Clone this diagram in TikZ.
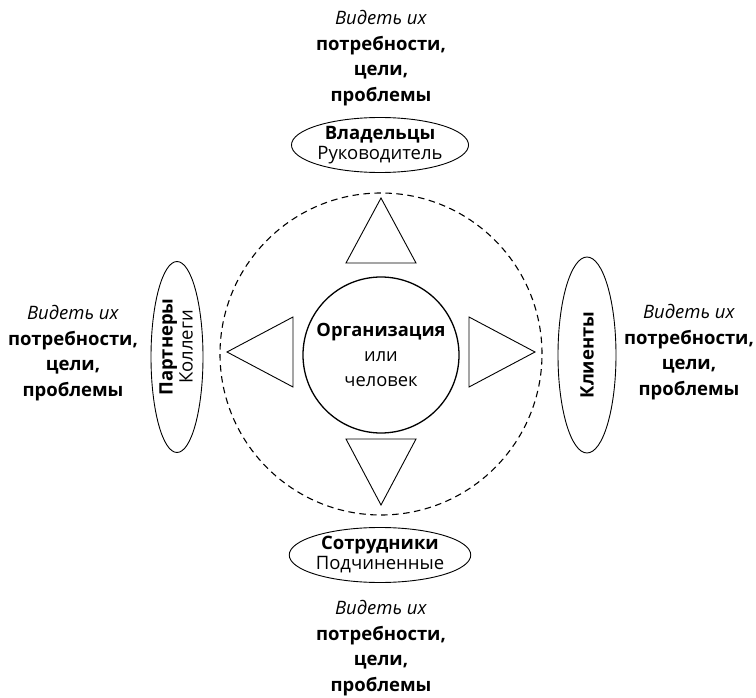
\documentclass[tikz,border=0pt]{standalone}
\usepackage{fontspec}
\setmainfont{Open Sans}
\usetikzlibrary{shapes.geometric}
\begin{document}
\begin{tikzpicture}[x=1pt,y=-1pt,
  ell/.style={draw,ellipse,line width=0.9pt,inner sep=0pt,align=center,font=\fontsize{18.5}{20}\selectfont},
  lab/.style={align=center,inner sep=0pt,font=\fontsize{18.5}{20}\selectfont},
  tri/.style={draw,line width=0.9pt,line join=miter},
  see/.style={align=center,font=\fontsize{18.5}{25.5}\selectfont}]
\useasboundingbox (0,0) rectangle (756,698);
% circles
\node[draw,dashed,circle,line width=1.1pt,minimum size=322pt,dash pattern=on 6.5pt off 4.5pt] (outer) at (381,354) {};
\node[draw,circle,line width=1.3pt,minimum size=156pt,inner sep=0pt,align=center,font=\fontsize{18.3}{25}\selectfont] (core) at (381,355) {\textbf{Организация}\\или\\человек};
% triangles
\draw[tri] (381,198) -- (416,263) -- (346,263) -- cycle;
\draw[tri] (381,505) -- (416,439) -- (346,439) -- cycle;
\draw[tri] (227,352) -- (293,317) -- (293,387) -- cycle;
\draw[tri] (535,352) -- (469,317) -- (469,387) -- cycle;
% ellipses
\node[ell,minimum width=176pt,minimum height=55pt] (own) at (380,145) {\textbf{Владельцы}\\Руководитель};
\node[ell,minimum width=176pt,minimum height=55pt] (emp) at (380,555) {\textbf{Сотрудники}\\Подчиненные};
\node[ell,rotate=90,minimum width=191pt,minimum height=52pt] (par) at (177,357) {};
\node[lab,rotate=90] (parT) at (176,347) {\textbf{Партнеры}\\Коллеги};
\node[ell,rotate=90,minimum width=196pt,minimum height=58pt] (cli) at (587,355) {\textbf{Клиенты}};
% texts
\node[see] (tt) at (381,58) {\textit{Видеть их}\\\textbf{потребности,}\\\textbf{цели,}\\\textbf{проблемы}};
\node[see] (lt) at (73,353) {\textit{Видеть их}\\\textbf{потребности,}\\\textbf{цели,}\\\textbf{проблемы}};
\node[see] (rt) at (689,352) {\textit{Видеть их}\\\textbf{потребности,}\\\textbf{цели,}\\\textbf{проблемы}};
\node[see] (bt) at (381,648) {\textit{Видеть их}\\\textbf{потребности,}\\\textbf{цели,}\\\textbf{проблемы}};
\end{tikzpicture}
\end{document}
